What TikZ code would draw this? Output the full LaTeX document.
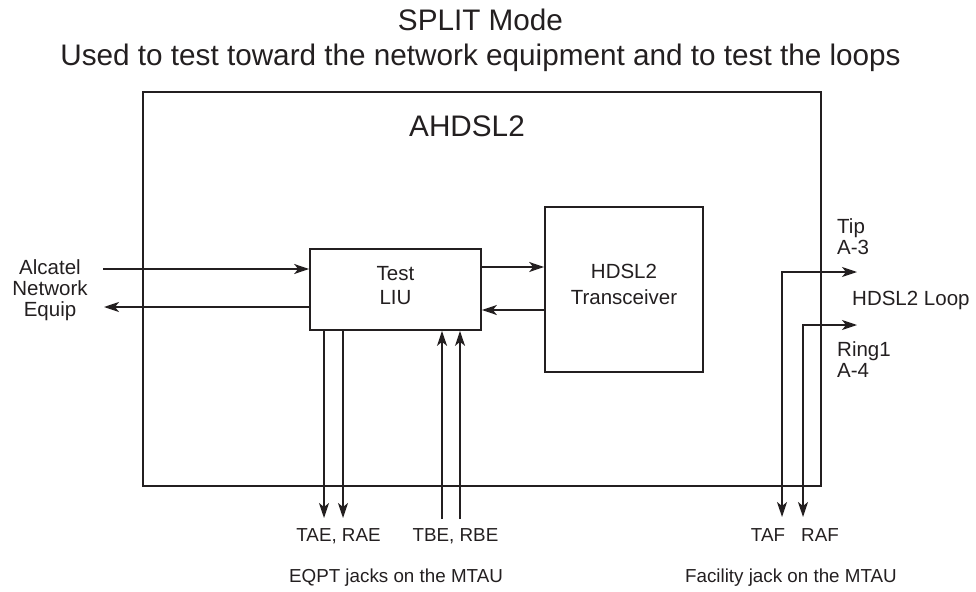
\documentclass[tikz,border=0pt]{standalone}
\usepackage{fontspec}
\setmainfont{Liberation Sans}
\usetikzlibrary{arrows.meta}
\definecolor{ink}{HTML}{231F20}
\tikzset{
  tipshape/.tip={Stealth[length=15pt, width=10pt, inset=4pt]},
  wire/.style={draw=ink, line width=1.6pt},
  arr/.style={wire, -tipshape},
  biarr/.style={wire, tipshape-tipshape},
  block/.style={draw=ink, line width=1.7pt, text=ink, align=center, inner sep=0pt, text depth=9pt,
    font=\fontsize{20.5}{24}\selectfont},
  title/.style={text=ink, inner sep=0pt, anchor=base, font=\fontsize{29.7}{36}\selectfont},
  side/.style={text=ink, inner sep=0pt, font=\fontsize{20.5}{21}\selectfont},
  jack/.style={text=ink, inner sep=0pt, anchor=base, font=\fontsize{18.8}{22}\selectfont}
}
\begin{document}
\begin{tikzpicture}[x=1pt, y=-1pt]
\useasboundingbox (0,0) rectangle (976,591);

% headings
\node[title] (mode) at (480.5,31) {SPLIT Mode};
\node[title] (use) at (480.5,66) {Used to test toward the network equipment and to test the loops};

% AHDSL2 card outline
\node[draw=ink, line width=1.7pt, minimum width=678pt, minimum height=394pt, inner sep=0pt] (card) at (482,289) {};
\node[title] (cardname) at (467,136) {AHDSL2};

% inner blocks
\node[block, minimum width=171pt, minimum height=81pt] (liu) at (395.5,289.5) {Test\\LIU};
\node[block, minimum width=158pt, minimum height=165pt, text depth=10pt, font=\fontsize{20.5}{26}\selectfont] (xcvr) at (624,289.5) {HDSL2\\Transceiver};

% network equipment side
\node[side, align=center] (alc) at (50,289.7) {Alcatel\\Network\\Equip};
\coordinate (netin) at (103,269);
\coordinate (netout) at (104,307);
\draw[arr] (netin) -- (netin -| liu.west);
\draw[arr] (netout -| liu.west) -- (netout);

% LIU <-> transceiver
\coordinate (fwd) at (0,267);
\coordinate (rev) at (0,310);
\draw[arr] (fwd -| liu.east) -- (fwd -| xcvr.west);
\draw[arr] (rev -| xcvr.west) -- (rev -| liu.east);

% EQPT jack leads
\coordinate (tae) at (324,518);
\coordinate (rae) at (343,518);
\coordinate (tbe) at (442,519);
\coordinate (rbe) at (460,519);
\draw[arr] (tae |- liu.south) -- (tae);
\draw[arr] (rae |- liu.south) -- (rae);
\draw[arr] (tbe) -- (tbe |- liu.south);
\draw[arr] (rbe) -- (rbe |- liu.south);

% facility leads to the loop
\coordinate (taf) at (782,517);
\coordinate (rAF) at (803,517);
\coordinate (tipout) at (857,272);
\coordinate (ringout) at (857,325);
\draw[biarr] (taf) |- (tipout);
\draw[biarr] (rAF) |- (ringout);

% loop labels
\node[side, align=left, anchor=south west] (tip) at (837,255) {Tip\\A-3};
\node[side, anchor=base west] (loop) at (852,305) {HDSL2 Loop};
\node[side, align=left, anchor=south west] (ring) at (837,378) {Ring1\\A-4};

% jack labels
\node[jack] (taelbl) at (338.5,541) {TAE, RAE};
\node[jack] (tbelbl) at (455.5,541) {TBE, RBE};
\node[jack] (taflbl) at (768,541) {TAF};
\node[jack] (raflbl) at (820,541) {RAF};
\node[jack] (eqpt) at (396,582) {EQPT jacks on the MTAU};
\node[jack, anchor=base east] (fac) at (897,582) {Facility jack on the MTAU};
\end{tikzpicture}
\end{document}
